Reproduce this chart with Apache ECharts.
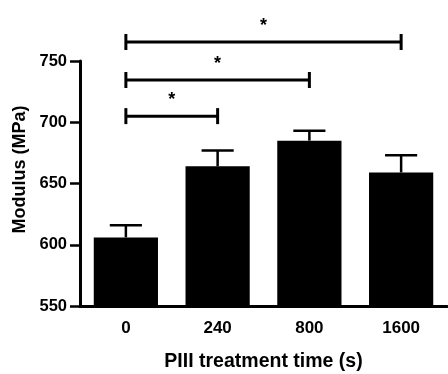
<!DOCTYPE html>
<html>
<head>
<meta charset="utf-8">
<script src="https://cdn.jsdelivr.net/npm/echarts@6/dist/echarts.min.js"></script>
<style>
  html, body { margin: 0; padding: 0; background: #fff; }
  #chart { width: 448px; height: 374px; }
</style>
</head>
<body>
<div id="chart"></div>
<script>
var categories = ['0', '240', '800', '1600']
var modulus = [606, 664, 685, 659]
var sem = [10, 13, 8, 14]
// significance brackets: from category, to category, height (MPa), mark
var bracketFrom = [0, 0, 0]
var bracketTo = [1, 2, 3]
var bracketLevel = [705, 734.5, 765.5]
var bracketMark = ['*', '*', '*']

var font = 'Liberation Sans, Arial, sans-serif'

var errData = modulus.map(function (v, i) { return [i, v, sem[i]] })
var bracketData = bracketFrom.map(function (f, i) {
  return [f, bracketTo[i], bracketLevel[i], bracketMark[i]]
})

var chart = echarts.init(document.getElementById('chart'))
var option = {
  animation: false,
  grid: { left: 80, right: 1, top: 61, bottom: 68, outerBoundsMode: 'none' },
  xAxis: {
    type: 'category',
    data: categories,
    name: 'PIII treatment time (s)',
    nameLocation: 'middle',
    nameGap: 46,
    nameTextStyle: { color: '#000', fontFamily: font, fontWeight: 'bold', fontSize: 19.5 },
    axisLine: { lineStyle: { color: '#000', width: 3 } },
    axisTick: { alignWithLabel: true, length: 8, lineStyle: { color: '#000', width: 2.5 } },
    axisLabel: { color: '#000', fontFamily: font, fontWeight: 'bold', fontSize: 17, margin: 14 }
  },
  yAxis: {
    type: 'value',
    min: 550,
    max: 750,
    interval: 50,
    name: 'Modulus (MPa)',
    nameLocation: 'middle',
    nameGap: 49,
    nameTextStyle: { color: '#000', fontFamily: font, fontWeight: 'bold', fontSize: 18, padding: [0, 0, 0, 28] },
    axisLine: { show: true, lineStyle: { color: '#000', width: 3 } },
    axisTick: { show: true, length: 10, lineStyle: { color: '#000', width: 2.5 } },
    axisLabel: { color: '#000', fontFamily: font, fontWeight: 'bold', fontSize: 16.5, margin: 13 },
    splitLine: { show: false }
  },
  series: [
    {
      type: 'bar',
      data: modulus,
      barWidth: '70%',
      itemStyle: { color: '#000' }
    },
    {
      type: 'custom',
      data: errData,
      z: 3,
      renderItem: function (params, api) {
        var x = api.value(0)
        var base = api.coord([x, api.value(1)])
        var top = api.coord([x, api.value(1) + api.value(2)])
        var half = api.size([1, 0])[0] * 0.7 / 4
        var style = { stroke: '#000', lineWidth: 2.5 }
        return {
          type: 'group',
          children: [
            { type: 'line', shape: { x1: base[0], y1: base[1], x2: top[0], y2: top[1] }, style: style },
            { type: 'line', shape: { x1: top[0] - half, y1: top[1], x2: top[0] + half, y2: top[1] }, style: style }
          ]
        }
      }
    },
    {
      type: 'custom',
      data: bracketData,
      clip: false,
      z: 3,
      renderItem: function (params, api) {
        var p0 = api.coord([api.value(0), api.value(2)])
        var p1 = api.coord([api.value(1), api.value(2)])
        var style = { stroke: '#000', lineWidth: 3 }
        return {
          type: 'group',
          children: [
            { type: 'line', shape: { x1: p0[0], y1: p0[1], x2: p1[0], y2: p1[1] }, style: style },
            { type: 'line', shape: { x1: p0[0], y1: p0[1] - 8, x2: p0[0], y2: p0[1] + 8 }, style: style },
            { type: 'line', shape: { x1: p1[0], y1: p1[1] - 8, x2: p1[0], y2: p1[1] + 8 }, style: style },
            {
              type: 'text',
              x: (p0[0] + p1[0]) / 2,
              y: p0[1] - 7,
              style: {
                text: api.value(3),
                fill: '#000',
                font: 'bold 18px ' + font,
                align: 'center',
                verticalAlign: 'bottom'
              }
            }
          ]
        }
      }
    }
  ]
}
chart.setOption(option)
window.addEventListener('resize', function () {
  chart.resize()
})
</script>
</body>
</html>
